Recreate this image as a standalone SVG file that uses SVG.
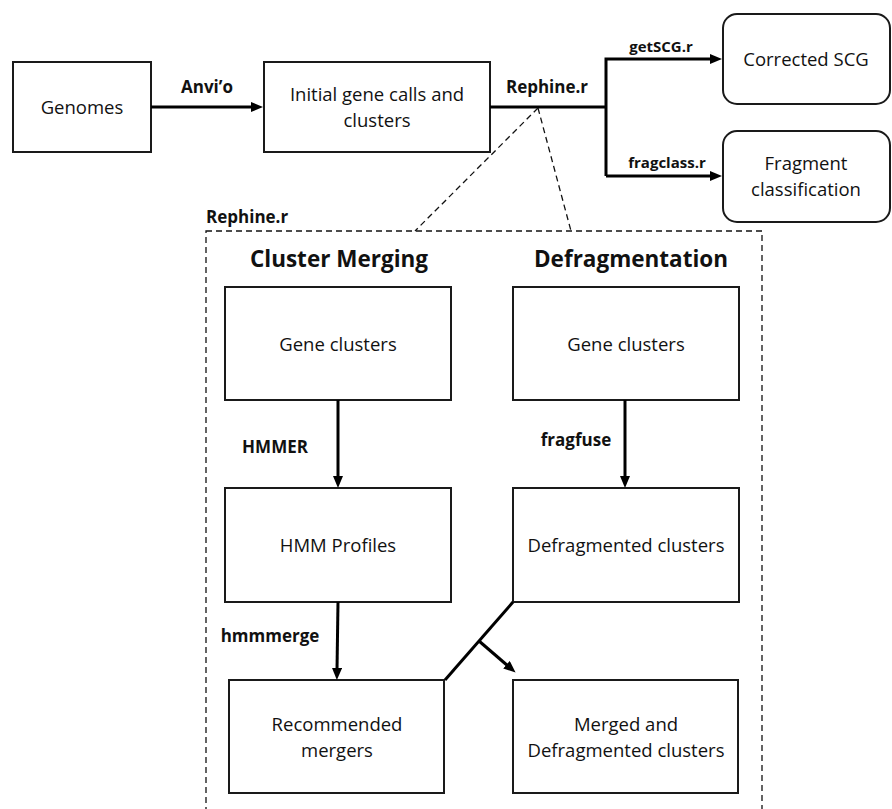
<svg xmlns="http://www.w3.org/2000/svg" width="892" height="809" viewBox="0 0 892 809">
  <style>
    .box { fill: #fff; stroke: #1a1a1a; stroke-width: 2; }
    .rbox { fill: #fff; stroke: #1a1a1a; stroke-width: 2; }
    .t { font-family: "Open Sans", "Liberation Sans", sans-serif; font-size: 18.5px; fill: #111; text-anchor: middle; }
    .lbl { font-family: "Open Sans", "Liberation Sans", sans-serif; font-size: 17px; font-weight: bold; fill: #111; text-anchor: middle; }
    .lbls { font-family: "Open Sans", "Liberation Sans", sans-serif; font-size: 15px; font-weight: bold; fill: #111; text-anchor: middle; }
    .hd { font-family: "Open Sans", "Liberation Sans", sans-serif; font-size: 22.5px; font-weight: bold; fill: #111; text-anchor: middle; }
    .conn { fill: none; stroke: #000; stroke-width: 3; }
    .dash { fill: none; stroke: #111; stroke-width: 1.3; stroke-dasharray: 6 4; }
  </style>
  <defs>
    <marker id="ah" markerUnits="userSpaceOnUse" viewBox="0 0 12 10" markerWidth="12" markerHeight="10" refX="2" refY="5" orient="auto">
      <path d="M0,0 L12,5 L0,10 z" fill="#000"/>
    </marker>
  </defs>

  <!-- dashed container -->
  <g id="rephine-container">
    <rect class="dash" x="206" y="231" width="556" height="620"/>
    <text class="lbl" x="206" y="223" style="text-anchor:start">Rephine.r</text>
    <text class="hd" x="339" y="267">Cluster Merging</text>
    <text class="hd" x="631" y="267">Defragmentation</text>
  </g>

  <g id="genomes">
    <rect class="box" x="13" y="62" width="138" height="90"/>
    <text class="t" x="82" y="114">Genomes</text>
  </g>
  <g id="initial">
    <rect class="box" x="264" y="62" width="226" height="90"/>
    <text class="t" x="377" y="101">Initial gene calls and</text>
    <text class="t" x="377" y="127">clusters</text>
  </g>
  <g id="corrected-scg">
    <rect class="rbox" x="723" y="14" width="167" height="90" rx="14" ry="14"/>
    <text class="t" x="806" y="66">Corrected SCG</text>
  </g>
  <g id="fragment-classification">
    <rect class="rbox" x="723" y="131" width="167" height="91" rx="14" ry="14"/>
    <text class="t" x="806" y="170">Fragment</text>
    <text class="t" x="806" y="196">classification</text>
  </g>

  <g id="gene-clusters-left">
    <rect class="box" x="225" y="287" width="226" height="113"/>
    <text class="t" x="338" y="351">Gene clusters</text>
  </g>
  <g id="gene-clusters-right">
    <rect class="box" x="513" y="287" width="226" height="113"/>
    <text class="t" x="626" y="351">Gene clusters</text>
  </g>
  <g id="hmm-profiles">
    <rect class="box" x="225" y="488" width="226" height="114"/>
    <text class="t" x="338" y="552">HMM Profiles</text>
  </g>
  <g id="defragmented-clusters">
    <rect class="box" x="513" y="488" width="226" height="114"/>
    <text class="t" x="626" y="552">Defragmented clusters</text>
  </g>
  <g id="recommended-mergers">
    <rect class="box" x="229" y="680" width="215" height="113"/>
    <text class="t" x="337" y="731">Recommended</text>
    <text class="t" x="337" y="757">mergers</text>
  </g>
  <g id="merged-defragmented">
    <rect class="box" x="513" y="680" width="225" height="113"/>
    <text class="t" x="626" y="731">Merged and</text>
    <text class="t" x="626" y="757">Defragmented clusters</text>
  </g>

  <g id="connectors">
    <line class="conn" x1="151" y1="107" x2="253" y2="107" marker-end="url(#ah)"/>
    <polyline class="conn" points="490,107 606,107"/>
    <polyline class="conn" points="606,176 606,59 712,59" marker-end="url(#ah)"/>
    <line class="conn" x1="606" y1="176" x2="712" y2="176" marker-end="url(#ah)"/>
    <line class="dash" x1="538" y1="108" x2="415" y2="231"/>
    <line class="dash" x1="538" y1="108" x2="571" y2="231"/>
    <line class="conn" x1="338" y1="400" x2="338" y2="478" marker-end="url(#ah)"/>
    <line class="conn" x1="625" y1="400" x2="625" y2="478" marker-end="url(#ah)"/>
    <line class="conn" x1="338" y1="602" x2="337" y2="670" marker-end="url(#ah)"/>
    <line class="conn" x1="513" y1="602" x2="445" y2="680"/>
    <line class="conn" x1="479" y1="641" x2="508" y2="666" marker-end="url(#ah)"/>
    <text class="lbl" x="207" y="93">Anvi’o</text>
    <text class="lbl" x="547" y="93">Rephine.r</text>
    <text class="lbls" x="661" y="52">getSCG.r</text>
    <text class="lbls" x="667" y="168">fragclass.r</text>
    <text class="lbl" x="275" y="453">HMMER</text>
    <text class="lbl" x="576" y="446">fragfuse</text>
    <text class="lbl" x="270" y="642">hmmmerge</text>
  </g>
</svg>
